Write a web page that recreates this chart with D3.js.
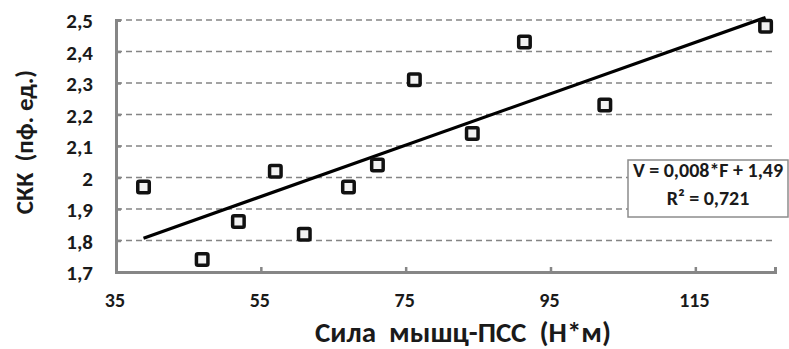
<!DOCTYPE html>
<html>
<head>
<meta charset="utf-8">
<script src="https://cdn.jsdelivr.net/npm/d3@7"></script>
<style>
  body { margin: 0; background: #fff; }
  text { font-family: Carlito, Calibri, "Open Sans", sans-serif; font-weight: bold; fill: #1a1a1a; white-space: pre; }
</style>
</head>
<body>
<div id="chart"></div>
<script>
const WIDTH = 789;
const HEIGHT = 349;

// muscle strength (N*m) vs. value (rel. units)
const force = [38.8, 46.9, 51.9, 57.0, 61.0, 67.1, 71.1, 76.2, 84.2, 91.4, 102.5, 124.7];
const value = [1.97, 1.74, 1.86, 2.02, 1.82, 1.97, 2.04, 2.31, 2.14, 2.43, 2.23, 2.48];

const xTicks = [35, 55, 75, 95, 115];
const yTicks = [1.7, 1.8, 1.9, 2.0, 2.1, 2.2, 2.3, 2.4, 2.5];

const equation = "V = 0,008*F + 1,49";
const rSquared = "R² = 0,721";

const x = d3.scaleLinear().domain([35, 126]).range([116, 775]);
const y = d3.scaleLinear().domain([1.7, 2.5]).range([272, 20]);

const fmt = v => String(+v.toFixed(1)).replace(".", ",");

const svg = d3.select("#chart")
    .append("svg")
    .attr("width", WIDTH)
    .attr("height", HEIGHT);

// dashed gridlines
svg.append("g")
    .selectAll("line")
    .data(yTicks.slice(1))
    .join("line")
    .attr("x1", x(35))
    .attr("x2", x(126))
    .attr("y1", d => y(d))
    .attr("y2", d => y(d))
    .attr("stroke", "#858585")
    .attr("stroke-width", 1.6)
    .attr("stroke-dasharray", "6,4");

// axes: ticks point inward, like the original
const yAxis = svg.append("g")
    .attr("transform", `translate(${x(35)},0)`)
    .call(d3.axisRight(y).tickValues(yTicks).tickSize(5).tickFormat(""));
const xAxis = svg.append("g")
    .attr("transform", `translate(0,${y(1.7)})`)
    .call(d3.axisTop(x).tickValues(xTicks).tickSize(5).tickFormat(""));

[yAxis, xAxis].forEach(a => {
    a.select(".domain").attr("stroke", "#868686").attr("stroke-width", 3);
    a.selectAll(".tick line").attr("stroke", "#868686").attr("stroke-width", 2.5);
});

// tick labels
svg.append("g")
    .selectAll("text")
    .data(yTicks)
    .join("text")
    .attr("x", 93)
    .attr("y", d => y(d) + 8)
    .attr("text-anchor", "end")
    .attr("font-size", 21)
    .text(fmt);

svg.append("g")
    .selectAll("text")
    .data(xTicks)
    .join("text")
    .attr("x", d => x(d) - 1)
    .attr("y", 307)
    .attr("text-anchor", "middle")
    .attr("font-size", 20)
    .text(d => d);

// axis titles
svg.append("text")
    .attr("x", 463)
    .attr("y", 342)
    .attr("text-anchor", "middle")
    .attr("font-size", 29)
    .text("Сила  мышц-ПСС  (Н*м)");

svg.append("text")
    .attr("transform", "translate(33,142) rotate(-90)")
    .attr("text-anchor", "middle")
    .attr("font-size", 25)
    .text("СКК  (пф. ед.)");

// least-squares trend line over the data range
const mx = d3.mean(force);
const my = d3.mean(value);
const slope = d3.sum(force, (f, i) => (f - mx) * (value[i] - my)) / d3.sum(force, f => (f - mx) ** 2);
const intercept = my - slope * mx;
const [fMin, fMax] = d3.extent(force);

svg.append("line")
    .attr("x1", x(fMin))
    .attr("y1", y(slope * fMin + intercept))
    .attr("x2", x(fMax))
    .attr("y2", y(slope * fMax + intercept))
    .attr("stroke", "#000")
    .attr("stroke-width", 3.2);

// square markers
const S = 11.5;
svg.append("g")
    .selectAll("rect")
    .data(force)
    .join("rect")
    .attr("x", (f, i) => x(f) - S / 2)
    .attr("y", (f, i) => y(value[i]) - S / 2)
    .attr("width", S)
    .attr("height", S)
    .attr("rx", 1.5)
    .attr("fill", "#f2f2f2")
    .attr("stroke", "#111")
    .attr("stroke-width", 3.5);

// equation label
const box = svg.append("g").attr("transform", "translate(628,160)");
box.append("rect")
    .attr("width", 160)
    .attr("height", 57)
    .attr("fill", "#fff")
    .attr("stroke", "#8c8c8c")
    .attr("stroke-width", 1.5);
box.append("text")
    .attr("x", 80)
    .attr("y", 17)
    .attr("dy", 0)
    .attr("text-anchor", "middle")
    .attr("font-size", 20)
    .text(equation);
box.append("text")
    .attr("x", 80)
    .attr("y", 45)
    .attr("text-anchor", "middle")
    .attr("font-size", 20)
    .text(rSquared);
</script>
</body>
</html>
